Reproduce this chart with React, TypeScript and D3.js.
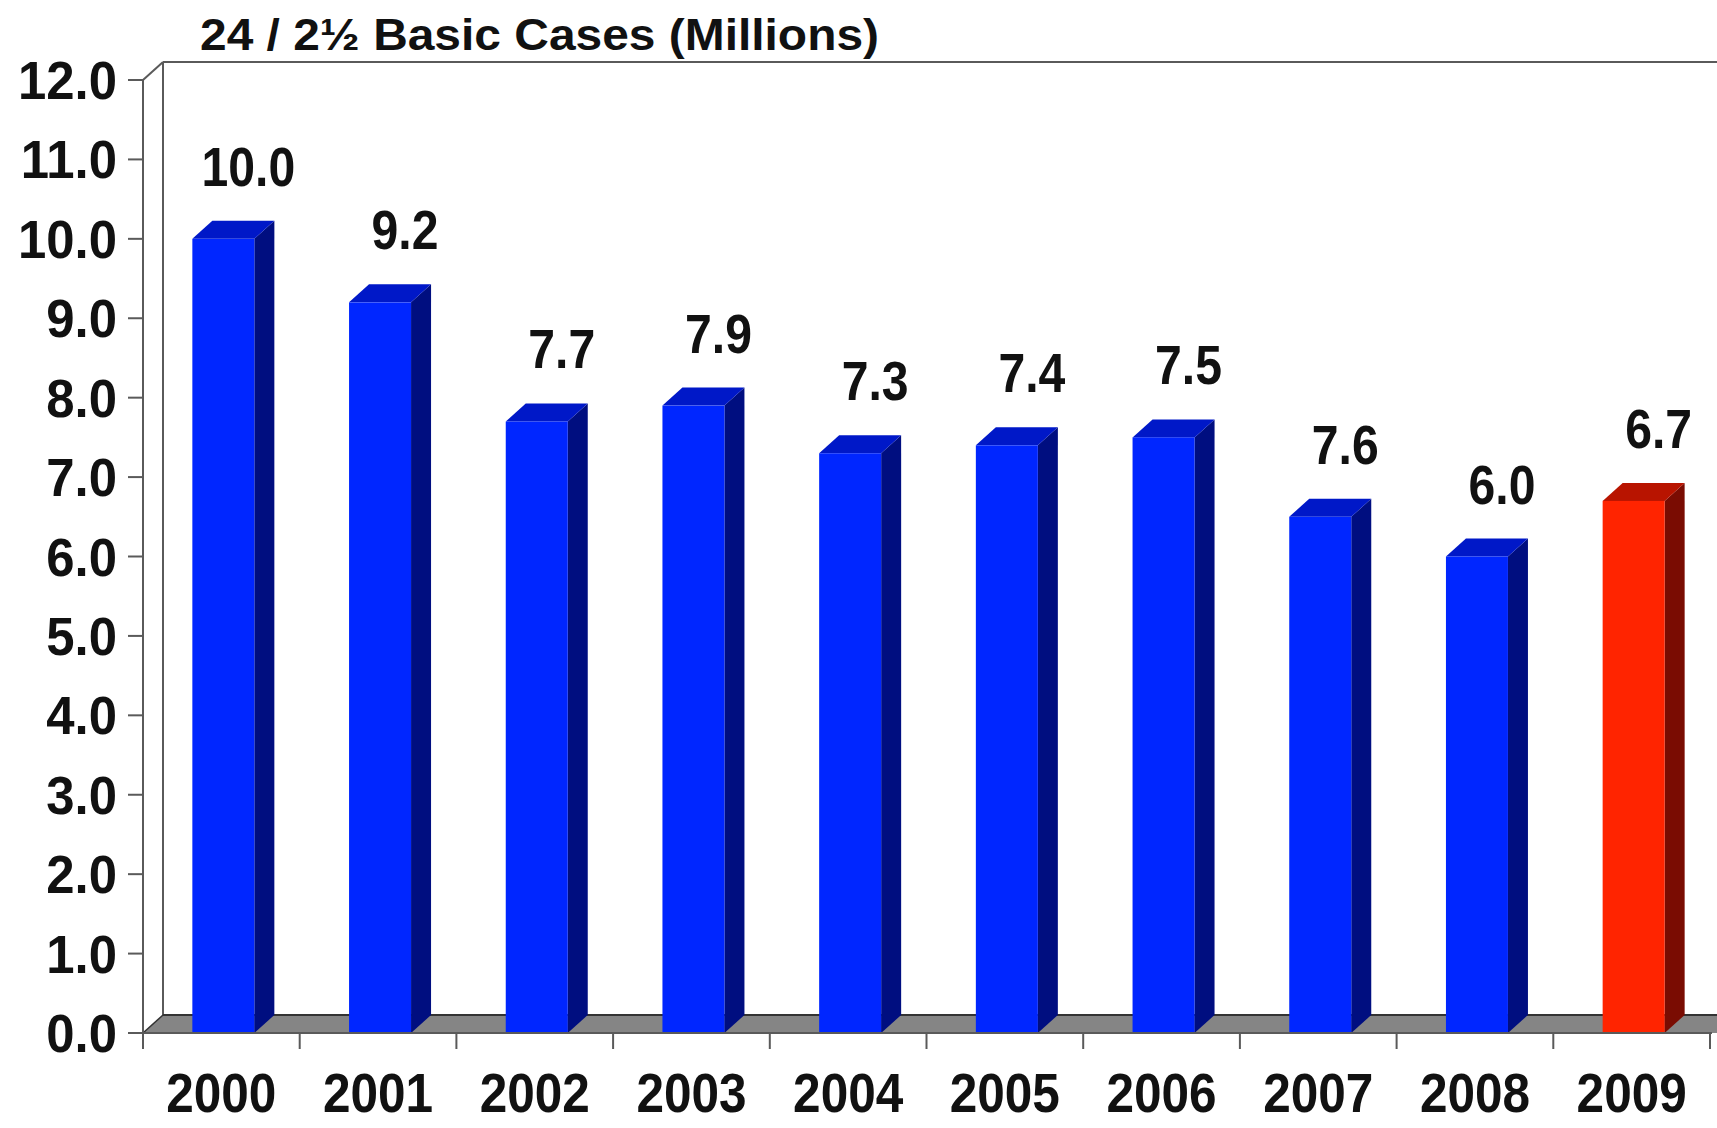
import React from "react";
import * as d3 from "d3";

const years = ["2000", "2001", "2002", "2003", "2004", "2005", "2006", "2007", "2008", "2009"];
// bar heights as drawn in the picture
const barValues = [10.0, 9.2, 7.7, 7.9, 7.3, 7.4, 7.5, 6.5, 6.0, 6.7];
// value labels as printed above the bars
const valueLabels = ["10.0", "9.2", "7.7", "7.9", "7.3", "7.4", "7.5", "7.6", "6.0", "6.7"];
const highlighted = ["2009"];
const yTicks = [0, 1, 2, 3, 4, 5, 6, 7, 8, 9, 10, 11, 12];
const title = "24 / 2\u00BD Basic Cases (Millions)";

const W = 1717;
const H = 1128;
const X0 = 143;
const X1 = 1710;
const Y0 = 1033;
const Y1 = 80;
const DX = 20;
const DY = 18;
const FONT = "'Liberation Sans', Arial, Helvetica, sans-serif";

export default function App() {
  const x = d3.scaleBand<string>().domain(years).range([X0, X1]).padding(0);
  const y = d3.scaleLinear().domain([0, 12]).range([Y0, Y1]);
  const bw = x.bandwidth();
  const faceW = 62;
  const axisColor = "#5a5a5a";

  return (
    <svg
      width={W}
      height={H}
      style={{ position: "absolute", left: 0, top: 0, background: "#fff" }}
      fontFamily={FONT}
    >
      {/* back wall */}
      <line x1={X0 + DX} y1={Y1 - DY} x2={W} y2={Y1 - DY} stroke={axisColor} strokeWidth={2} />
      <line x1={X0 + DX} y1={Y1 - DY} x2={X0 + DX} y2={Y0 - DY} stroke={axisColor} strokeWidth={2} />
      <line x1={X0} y1={Y1} x2={X0 + DX} y2={Y1 - DY} stroke={axisColor} strokeWidth={2} />
      {/* floor */}
      <polygon
        points={`${X0},${Y0} ${X0 + DX},${Y0 - DY} ${W},${Y0 - DY} ${W},${Y0}`}
        fill="#858585"
      />
      <line x1={X0 + DX} y1={Y0 - DY} x2={W} y2={Y0 - DY} stroke="#333" strokeWidth={2} />
      <line x1={X0} y1={Y0} x2={X0 + DX} y2={Y0 - DY} stroke="#333" strokeWidth={1.5} />

      {/* bars */}
      {years.map((yr, i) => {
        const cx = (x(yr) as number) + bw / 2 + 2;
        const xa = cx - faceW / 2;
        const xb = cx + faceW / 2;
        const yt = y(barValues[i]);
        const red = highlighted.includes(yr);
        const front = red ? "#ff2400" : "#0026ff";
        const side = red ? "#7a0c02" : "#000e80";
        const top = red ? "#b81400" : "#0018c8";
        return (
          <g key={yr}>
            <polygon
              points={`${xb},${yt} ${xb + DX},${yt - DY} ${xb + DX},${Y0 - DY} ${xb},${Y0}`}
              fill={side}
            />
            <polygon
              points={`${xa},${yt} ${xa + DX},${yt - DY} ${xb + DX},${yt - DY} ${xb},${yt}`}
              fill={top}
            />
            <rect x={xa} y={yt} width={faceW} height={Y0 - yt} fill={front} />
          </g>
        );
      })}

      {/* front axes */}
      <line x1={X0} y1={Y1} x2={X0} y2={Y0 + 16} stroke={axisColor} strokeWidth={2} />
      <line x1={X0} y1={Y0} x2={X1 + 2} y2={Y0} stroke={axisColor} strokeWidth={2} />
      {yTicks.map((t) => (
        <g key={"yt" + t}>
          <line x1={X0 - 15} y1={y(t)} x2={X0} y2={y(t)} stroke={axisColor} strokeWidth={2} />
          <text
            transform={`translate(117,${y(t) + 19}) scale(0.96,1)`}
            textAnchor="end"
            fontSize={53}
            fontWeight="bold"
            fill="#111"
          >
            {t.toFixed(1)}
          </text>
        </g>
      ))}
      {years.map((yr) => (
        <line
          key={"xt" + yr}
          x1={(x(yr) as number) + bw}
          y1={Y0}
          x2={(x(yr) as number) + bw}
          y2={Y0 + 16}
          stroke={axisColor}
          strokeWidth={2}
        />
      ))}
      {years.map((yr) => (
        <text
          key={"xl" + yr}
          transform={`translate(${(x(yr) as number) + bw / 2},1112) scale(0.9,1)`}
          textAnchor="middle"
          fontSize={55}
          fontWeight="bold"
          fill="#111"
        >
          {yr}
        </text>
      ))}

      {/* value labels */}
      {years.map((yr, i) => (
        <text
          key={"vl" + yr}
          transform={`translate(${(x(yr) as number) + bw / 2 + 27},${y(barValues[i]) - DY - 35}) scale(0.86,1)`}
          textAnchor="middle"
          fontSize={56}
          fontWeight="bold"
          fill="#111"
        >
          {valueLabels[i]}
        </text>
      ))}

      {/* title */}
      <text
        x={200}
        y={50}
        fontSize={45}
        fontWeight="bold"
        fill="#111"
        textLength={679}
        lengthAdjust="spacingAndGlyphs"
      >
        {title}
      </text>
    </svg>
  );
}
